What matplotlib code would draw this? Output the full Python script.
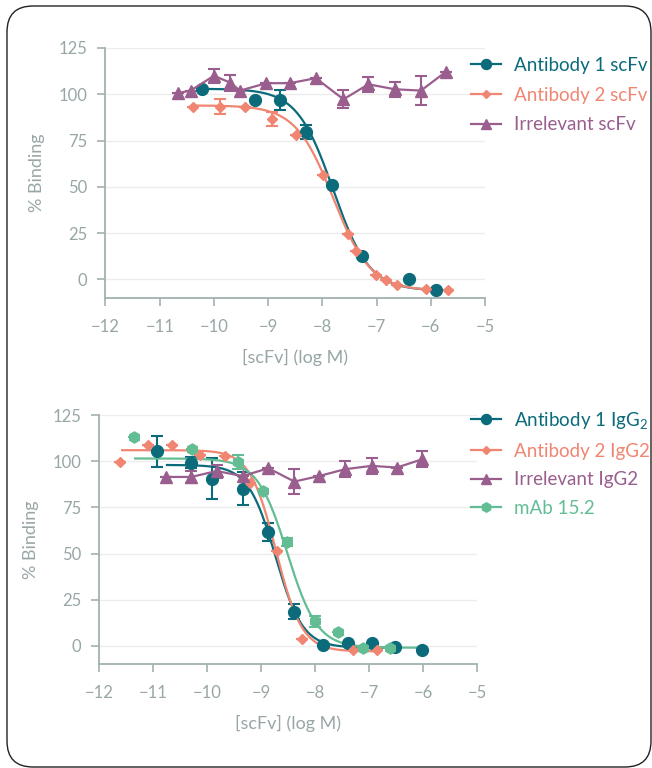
import numpy as np
import matplotlib
matplotlib.use("Agg")
import matplotlib.pyplot as plt
from matplotlib.patches import FancyBboxPatch

plt.rcParams['font.family'] = ['Lato', 'DejaVu Sans']
plt.rcParams['mathtext.fontset'] = 'custom'
plt.rcParams['mathtext.rm'] = 'Lato'
plt.rcParams['mathtext.it'] = 'Lato'

TEAL = '#0b6b7a'
SALMON = '#f08672'
PURPLE = '#9a5e8e'
GREEN = '#62bd94'
AXC = '#a3b1b1'
TXT = '#98a6a6'

# ---------------- Top panel data (scFv) ----------------
ab1_scfv_x = [-10.22, -9.24, -8.79, -8.30, -7.83, -7.26, -6.40, -5.90]
ab1_scfv_y = [102.7, 97.0, 97.0, 79.4, 51.2, 12.6, 0.0, -5.7]
ab1_scfv_err = [0, 0, 5.4, 3.8, 0, 0, 0, 0]
ab1_scfv_fit = [103.0, -6.0, -7.80, 1.3]   # top, bottom, logIC50, hill

ab2_scfv_x = [-10.38, -9.89, -9.43, -8.93, -8.49, -7.98, -7.52, -7.37, -7.01, -6.83, -6.62, -6.09, -5.68]
ab2_scfv_y = [93.4, 93.4, 93.4, 86.7, 78.1, 56.6, 24.8, 15.6, 2.3, -0.5, -3.2, -5.4, -5.7]
ab2_scfv_err = [0, 3.8, 0, 4.0, 0, 0, 0, 0, 0, 0, 0, 0, 0]
ab2_scfv_fit = [94.0, -6.0, -7.80, 1.25]

irr_scfv_x = [-10.67, -10.43, -10.00, -9.70, -9.52, -9.03, -8.60, -8.12, -7.61, -7.15, -6.66, -6.18, -5.72]
irr_scfv_y = [100.6, 102.0, 110.0, 106.3, 102.0, 106.0, 106.0, 108.7, 97.3, 105.4, 102.7, 102.0, 112.2]
irr_scfv_err = [0, 0, 3.8, 4.3, 0, 0, 0, 0, 4.8, 4.1, 4.0, 7.8, 0]

# ---------------- Bottom panel data (IgG) ----------------
ab1_igg_x = [-10.93, -10.30, -9.92, -9.35, -8.88, -8.39, -7.86, -7.40, -6.95, -6.52, -6.02]
ab1_igg_y = [105.3, 99.3, 90.6, 85.2, 61.6, 18.6, 0.5, 1.8, 1.8, -0.7, -2.2]
ab1_igg_err = [8.2, 3.0, 10.9, 8.8, 5.0, 4.3, 0, 0, 0, 0, 0]
ab1_igg_fit = [98.0, -1.0, -8.74, 1.72]
ab1_igg_range = [-10.75, -6.5]

ab2_igg_x = [-11.62, -11.11, -10.65, -10.14, -9.67, -9.22, -8.71, -8.24, -7.30, -6.86]
ab2_igg_y = [99.8, 108.7, 108.7, 103.3, 102.9, 88.0, 51.3, 3.6, -2.2, -2.2]
ab2_igg_fit = [106.0, -3.0, -8.73, 1.8]
ab2_igg_range = [-11.58, -6.86]

irr_igg_x = [-10.77, -10.30, -9.83, -9.35, -8.87, -8.39, -7.93, -7.45, -6.96, -6.49, -6.02]
irr_igg_y = [91.5, 91.5, 94.7, 92.0, 96.2, 89.0, 92.0, 95.7, 97.5, 96.6, 101.1]
irr_igg_err = [0, 3.2, 3.5, 0, 0, 7.0, 0, 4.3, 4.2, 0, 4.3]

mab_x = [-11.37, -10.28, -9.44, -8.98, -8.53, -8.01, -7.58, -7.12, -6.62]
mab_y = [113.2, 106.5, 99.6, 83.9, 56.2, 13.2, 7.4, -1.3, -1.3]
mab_err = [0, 0, 4.0, 0, 2.0, 3.0, 0, 0, 0]
mab_fit = [101.5, -1.0, -8.52, 1.56]
mab_range = [-11.34, -6.02]

x_ticks = [-12, -11, -10, -9, -8, -7, -6, -5]
y_ticks = [0, 25, 50, 75, 100, 125]


def fourpl(x, p):
    top, bottom, c, h = p
    return bottom + (top - bottom) / (1 + 10 ** ((x - c) * h))


fig = plt.figure(figsize=(6.52, 7.68), dpi=100)

frame = FancyBboxPatch((0.07, 0.01), 6.44, 7.61,
                       boxstyle="round,pad=0,rounding_size=0.26",
                       transform=fig.dpi_scale_trans, fill=False,
                       edgecolor='#222222', linewidth=1.0)
fig.patches.append(frame)


def style_axes(ax):
    ax.set_xlim(-12, -5)
    ax.set_ylim(-10, 125)
    ax.set_xticks(x_ticks)
    ax.set_yticks(y_ticks)
    ax.set_xticklabels([f"\u2212{abs(t)}" for t in x_ticks])
    for s in ['top', 'right']:
        ax.spines[s].set_visible(False)
    for s in ['left', 'bottom']:
        ax.spines[s].set_color(AXC)
        ax.spines[s].set_linewidth(1.3)
    ax.tick_params(axis='both', colors=AXC, labelcolor=TXT, labelsize=12,
                   length=6, width=1.2)
    ax.tick_params(axis='y', pad=7)
    ax.tick_params(axis='x', pad=9)
    ax.yaxis.grid(True, color='#ececec', linewidth=1.0)
    ax.set_axisbelow(True)
    ax.set_ylabel('% Binding', color=TXT, fontsize=13, labelpad=10)
    ax.set_xlabel('[scFv] (log M)', color=TXT, fontsize=13, labelpad=10)


def plot_series(ax, x, y, err, color, marker, ms, label, line=False, fit=None, rng=None):
    ax.errorbar(x, y, yerr=err, fmt='none', ecolor=color, elinewidth=1.5,
                capsize=4, capthick=1.5, zorder=3)
    if line:
        ax.plot(x, y, color=color, lw=1.6, marker=marker, ms=ms, zorder=4)
    else:
        ax.plot(x, y, ls='none', color=color, marker=marker, ms=ms, zorder=4)
    if fit is not None:
        lo, hi = rng if rng is not None else (min(x), max(x))
        xs = np.linspace(lo, hi, 300)
        ax.plot(xs, fourpl(xs, fit), color=color, lw=1.6, zorder=3)
    ax.plot([], [], color=color, lw=1.6, marker=marker, ms=ms * 0.85, label=label)


def add_legend(ax, x_px, y_px, colors, spacing):
    leg = fig.legend(handles=ax.get_legend_handles_labels()[0],
                     labels=ax.get_legend_handles_labels()[1],
                     loc='upper left', bbox_to_anchor=(x_px / 652, 1 - y_px / 768),
                     frameon=False, fontsize=13.5, handlelength=1.6, labelspacing=spacing,
                     borderaxespad=0, borderpad=0, handletextpad=0.7)
    for t, c in zip(leg.get_texts(), colors):
        t.set_color(c)
    return leg


# Top axes
ax1 = fig.add_axes([0.1618, 0.612, 0.582, 0.3255])
style_axes(ax1)
plot_series(ax1, ab1_scfv_x, ab1_scfv_y, ab1_scfv_err, TEAL, 'o', 8.5, 'Antibody 1 scFv',
            fit=ab1_scfv_fit)
plot_series(ax1, ab2_scfv_x, ab2_scfv_y, ab2_scfv_err, SALMON, 'D', 5.2, 'Antibody 2 scFv',
            fit=ab2_scfv_fit)
plot_series(ax1, irr_scfv_x, irr_scfv_y, irr_scfv_err, PURPLE, '^', 8, 'Irrelevant scFv',
            line=True)
add_legend(ax1, 471, 57, [TEAL, SALMON, PURPLE], 0.68)

# Bottom axes
ax2 = fig.add_axes([0.1526, 0.135, 0.5795, 0.3245])
style_axes(ax2)
plot_series(ax2, ab1_igg_x, ab1_igg_y, ab1_igg_err, TEAL, 'o', 8.5, 'Antibody 1 IgG$_2$',
            fit=ab1_igg_fit, rng=ab1_igg_range)
plot_series(ax2, ab2_igg_x, ab2_igg_y, [0] * len(ab2_igg_x), SALMON, 'D', 5.2, 'Antibody 2 IgG2',
            fit=ab2_igg_fit, rng=ab2_igg_range)
plot_series(ax2, irr_igg_x, irr_igg_y, irr_igg_err, PURPLE, '^', 8, 'Irrelevant IgG2',
            line=True)
plot_series(ax2, mab_x, mab_y, mab_err, GREEN, 'h', 8, 'mAb 15.2',
            fit=mab_fit, rng=mab_range)
add_legend(ax2, 471, 410, [TEAL, SALMON, PURPLE, GREEN], 0.62)

fig.savefig('out.png', dpi=100)
